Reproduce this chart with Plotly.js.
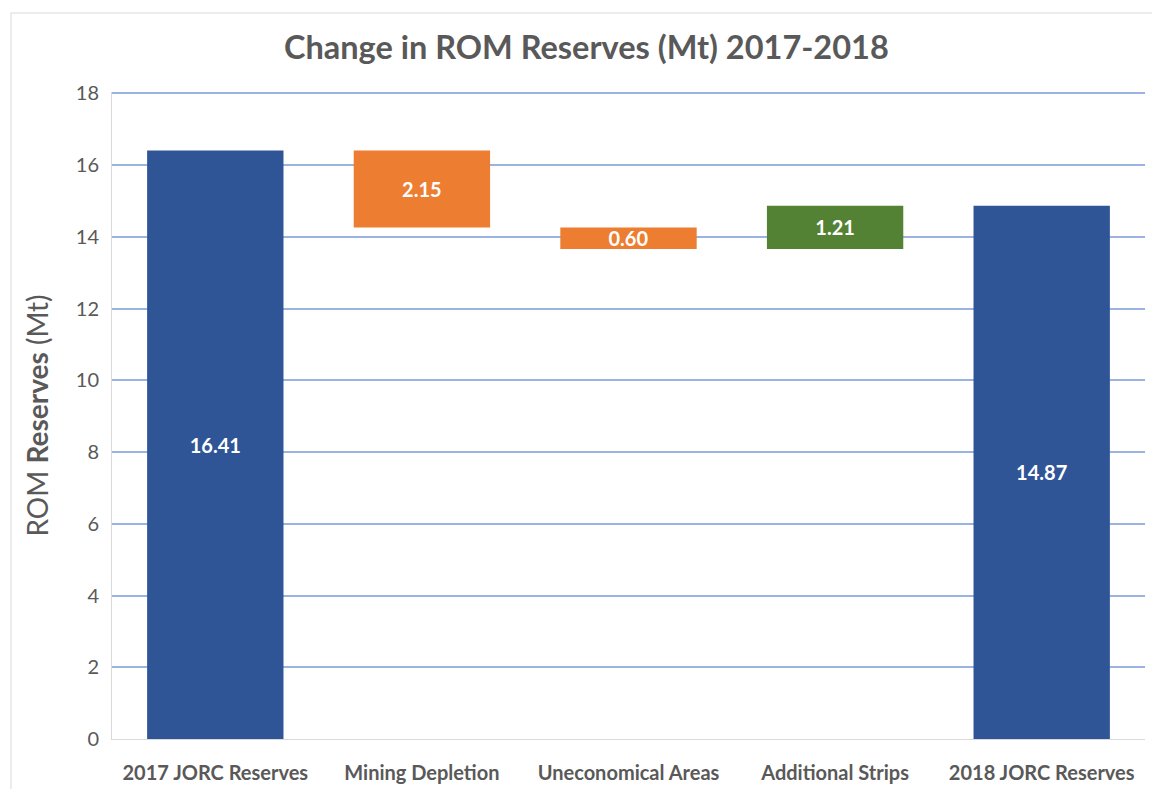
<!DOCTYPE html>
<html>
<head>
<meta charset="utf-8">
<script src="https://cdn.plot.ly/plotly-3.0.1.min.js"></script>
<style>html,body{margin:0;padding:0;background:#fff;}#chart{width:1152px;height:789px;}</style>
</head>
<body>
<div id="chart"></div>
<script>
const categories = ["2017 JORC Reserves", "Mining Depletion", "Uneconomical Areas", "Additional Strips", "2018 JORC Reserves"];
const measures = ["absolute", "relative", "relative", "relative", "total"];
const values = [16.41, -2.15, -0.60, 1.21, 14.87];
const yTicks = [0, 2, 4, 6, 8, 10, 12, 14, 16, 18];

const labels = values.map(v => Math.abs(v).toFixed(2));
const gray = "#595959";
const font = "Lato, 'Open Sans', sans-serif";

const trace = {
  type: "waterfall",
  x: categories,
  y: values,
  measure: measures,
  text: labels,
  textposition: "inside",
  insidetextanchor: "middle",
  constraintext: "none",
  textfont: {color: "#ffffff", size: 20, family: font, weight: "bold"},
  connector: {visible: false},
  increasing: {marker: {color: "#548235"}},
  decreasing: {marker: {color: "#ED7D31"}},
  totals: {marker: {color: "#2F5597"}},
  width: 0.66,
  hoverinfo: "x+y"
};

const layout = {
  width: 1152, height: 789,
  margin: {l: 112, r: 7, t: 92, b: 50},
  paper_bgcolor: "#ffffff",
  plot_bgcolor: "#ffffff",
  showlegend: false,
  font: {family: font, color: gray},
  title: {
    text: "<b>Change in ROM Reserves (Mt) 2017-2018</b>",
    font: {size: 32.5, color: gray, family: font},
    x: 0.509, xanchor: "center", y: 0.94, yanchor: "middle"
  },
  xaxis: {
    type: "category",
    tickfont: {size: 20, color: gray, family: font, weight: "bold"},
    showline: true, linecolor: "#d9d9d9", linewidth: 1,
    ticks: "", showgrid: false, automargin: false,
    ticklabelstandoff: 16
  },
  yaxis: {
    range: [0, 18.04],
    tickvals: yTicks,
    ticktext: yTicks.map(String),
    tickfont: {size: 20, color: gray, family: font},
    gridcolor: "#9AB3E0", gridwidth: 2,
    showline: true, linecolor: "#d9d9d9", linewidth: 1,
    zeroline: false, ticks: "", ticklen: 0,
    ticklabelstandoff: 8,
    automargin: false,
    title: {text: "ROM <b>Reserves</b> (Mt)", font: {size: 28, color: gray, family: font}, standoff: 18}
  },
  shapes: [{
    type: "rect", xref: "paper", yref: "paper",
    x0: (11 - 112) / 1033, x1: (1160 - 112) / 1033,
    y0: (739 - 800) / 647, y1: (739 - 13) / 647,
    line: {color: "#e6e6e6", width: 1.5}, fillcolor: "rgba(0,0,0,0)", layer: "below"
  }]
};

Plotly.newPlot("chart", [trace], layout, {displayModeBar: false, staticPlot: true});
</script>
</body>
</html>
